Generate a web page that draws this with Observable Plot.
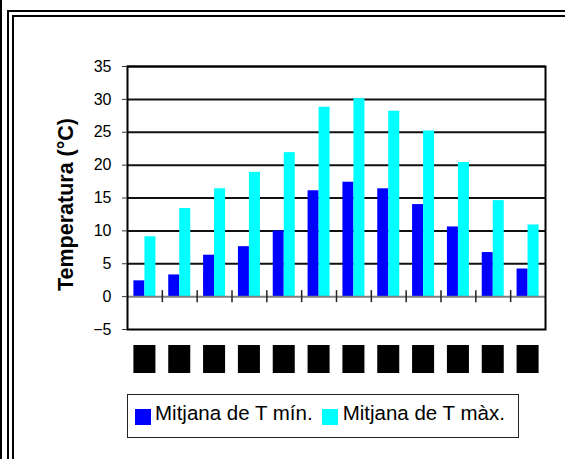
<!DOCTYPE html>
<html>
<head>
<meta charset="utf-8">
<script src="https://cdn.jsdelivr.net/npm/d3@7"></script>
<script src="https://cdn.jsdelivr.net/npm/@observablehq/plot@0.6"></script>
<style>
  html, body { margin: 0; padding: 0; background: #fff; }
  #wrap { position: relative; width: 565px; height: 459px; overflow: hidden; font-family: "Liberation Sans", Arial, sans-serif; }
  .edge { position: absolute; left: 0; top: 0; width: 2px; height: 459px; background: #000; }
  .border-outer { position: absolute; left: 7px; top: 10px; width: 620px; height: 520px; border: 2px solid #000; box-sizing: border-box; }
  .border-inner { position: absolute; left: 12px; top: 15px; width: 620px; height: 520px; border: 2px solid #000; box-sizing: border-box; }
  #chart { position: absolute; left: 0; top: 0; }
  #months { position: absolute; left: 0; top: 345px; }
  #legend { position: absolute; left: 127px; top: 394px; width: 392px; height: 44px; border: 1px solid #222; box-sizing: border-box; background: #fff; }
  #legend .sw { position: absolute; top: 14px; width: 16px; height: 16px; }
  #legend .lab { position: absolute; top: 7.6px; font-size: 20.5px; line-height: 1; color: #000; white-space: nowrap; }
</style>
</head>
<body>
<div id="wrap">
  <div class="edge"></div>
  <div class="border-outer"></div>
  <div class="border-inner"></div>
  <div id="chart"></div>
  <div id="months"></div>
  <div id="legend"></div>
</div>
<script>
// Monthly mean temperatures (°C)
const months = ["GEN", "FEB", "MAR", "ABR", "MAI", "JUN", "JUL", "AGO", "SET", "OCT", "NOV", "DES"];
const tMin = [2.4, 3.3, 6.3, 7.6, 10.0, 16.1, 17.4, 16.4, 14.0, 10.6, 6.7, 4.2];
const tMax = [9.1, 13.4, 16.4, 18.9, 21.9, 28.8, 30.1, 28.2, 25.2, 20.4, 14.6, 10.9];
const seriesNames = ["Mitjana de T mín.", "Mitjana de T màx."];
const seriesColors = ["#0000ff", "#00ffff"];
const yTicks = [-5, 0, 5, 10, 15, 20, 25, 30, 35];
const yTitle = "Temperatura (°C)";

const rowsMin = months.map((m, i) => ({month: m, series: seriesNames[0], value: tMin[i]}));
const rowsMax = months.map((m, i) => ({month: m, series: seriesNames[1], value: tMax[i]}));

const W = 565, H = 390;
const mL = 127, mR = 20, mT = 66, mB = 61;
const bw = (W - mL - mR) / months.length;   // width of one month band
const barW = bw * 0.316;                      // each of the two bars
const side = (bw - 2 * barW) / 2;             // gap on either side of the pair
const fontFamily = "'Liberation Sans', Arial, sans-serif";

const chart = Plot.plot({
  width: W,
  height: H,
  marginLeft: mL,
  marginRight: mR,
  marginTop: mT,
  marginBottom: mB,
  style: {fontFamily, background: "transparent", overflow: "visible"},
  x: {type: "band", domain: months, padding: 0, round: false, axis: null},
  y: {domain: [-5, 35], axis: null},
  color: {domain: seriesNames, range: seriesColors},
  marks: [
    // horizontal gridlines
    Plot.ruleY(yTicks.filter(t => t > 0), {stroke: "#111", strokeWidth: 2}),
    // bars
    Plot.barY(rowsMin, {x: "month", y: "value", fill: "series", insetLeft: side, insetRight: side + barW}),
    Plot.barY(rowsMax, {x: "month", y: "value", fill: "series", insetLeft: side + barW, insetRight: side}),
    // category axis at zero
    Plot.ruleY([0], {stroke: "#808080", strokeWidth: 2}),
    // tick marks between months
    Plot.ruleX(months.slice(1), {x: d => d, y1: 0, y2: 0, dx: -bw / 2, insetTop: -6, insetBottom: -6, stroke: "#222", strokeWidth: 1.5}),
    // plot area border
    Plot.frame({stroke: "#000", strokeWidth: 2}),
    // value axis
    Plot.axisY({ticks: yTicks, tickSize: 5, tickPadding: 11, fontSize: 16, label: null, stroke: "#333", fill: "#000"}),
    // value axis title
    Plot.text([yTitle], {frameAnchor: "left", text: d => d, rotate: -90, dx: -61, dy: 6.5,
      textAnchor: "middle", fontSize: 21.5, fontWeight: "bold", lineAnchor: "middle", fill: "#000"})
  ]
});
document.getElementById("chart").appendChild(chart);

// month labels row: each label sits in a solid black box under its month
const monthRow = Plot.plot({
  width: W,
  height: 28,
  marginLeft: mL,
  marginRight: mR,
  marginTop: 0,
  marginBottom: 0,
  style: {fontFamily, background: "transparent", overflow: "visible"},
  x: {type: "band", domain: months, padding: 0, round: false, axis: null},
  marks: [
    Plot.cell(months, {x: d => d, fill: "#000", inset: 0, insetLeft: side, insetRight: side}),
    Plot.text(months, {x: d => d, text: d => d, rotate: -90, fontSize: 11, fontWeight: "bold", fill: "#000"})
  ]
});
document.getElementById("months").appendChild(monthRow);

// legend
const legend = document.getElementById("legend");
const swLeft = [7, 194], labLeft = [27, 214.7];
seriesNames.forEach((name, i) => {
  const sw = document.createElement("div");
  sw.className = "sw";
  sw.style.left = swLeft[i] + "px";
  sw.style.background = seriesColors[i];
  legend.appendChild(sw);
  const lab = document.createElement("div");
  lab.className = "lab";
  lab.style.left = labLeft[i] + "px";
  lab.textContent = name;
  legend.appendChild(lab);
});
</script>
</body>
</html>
